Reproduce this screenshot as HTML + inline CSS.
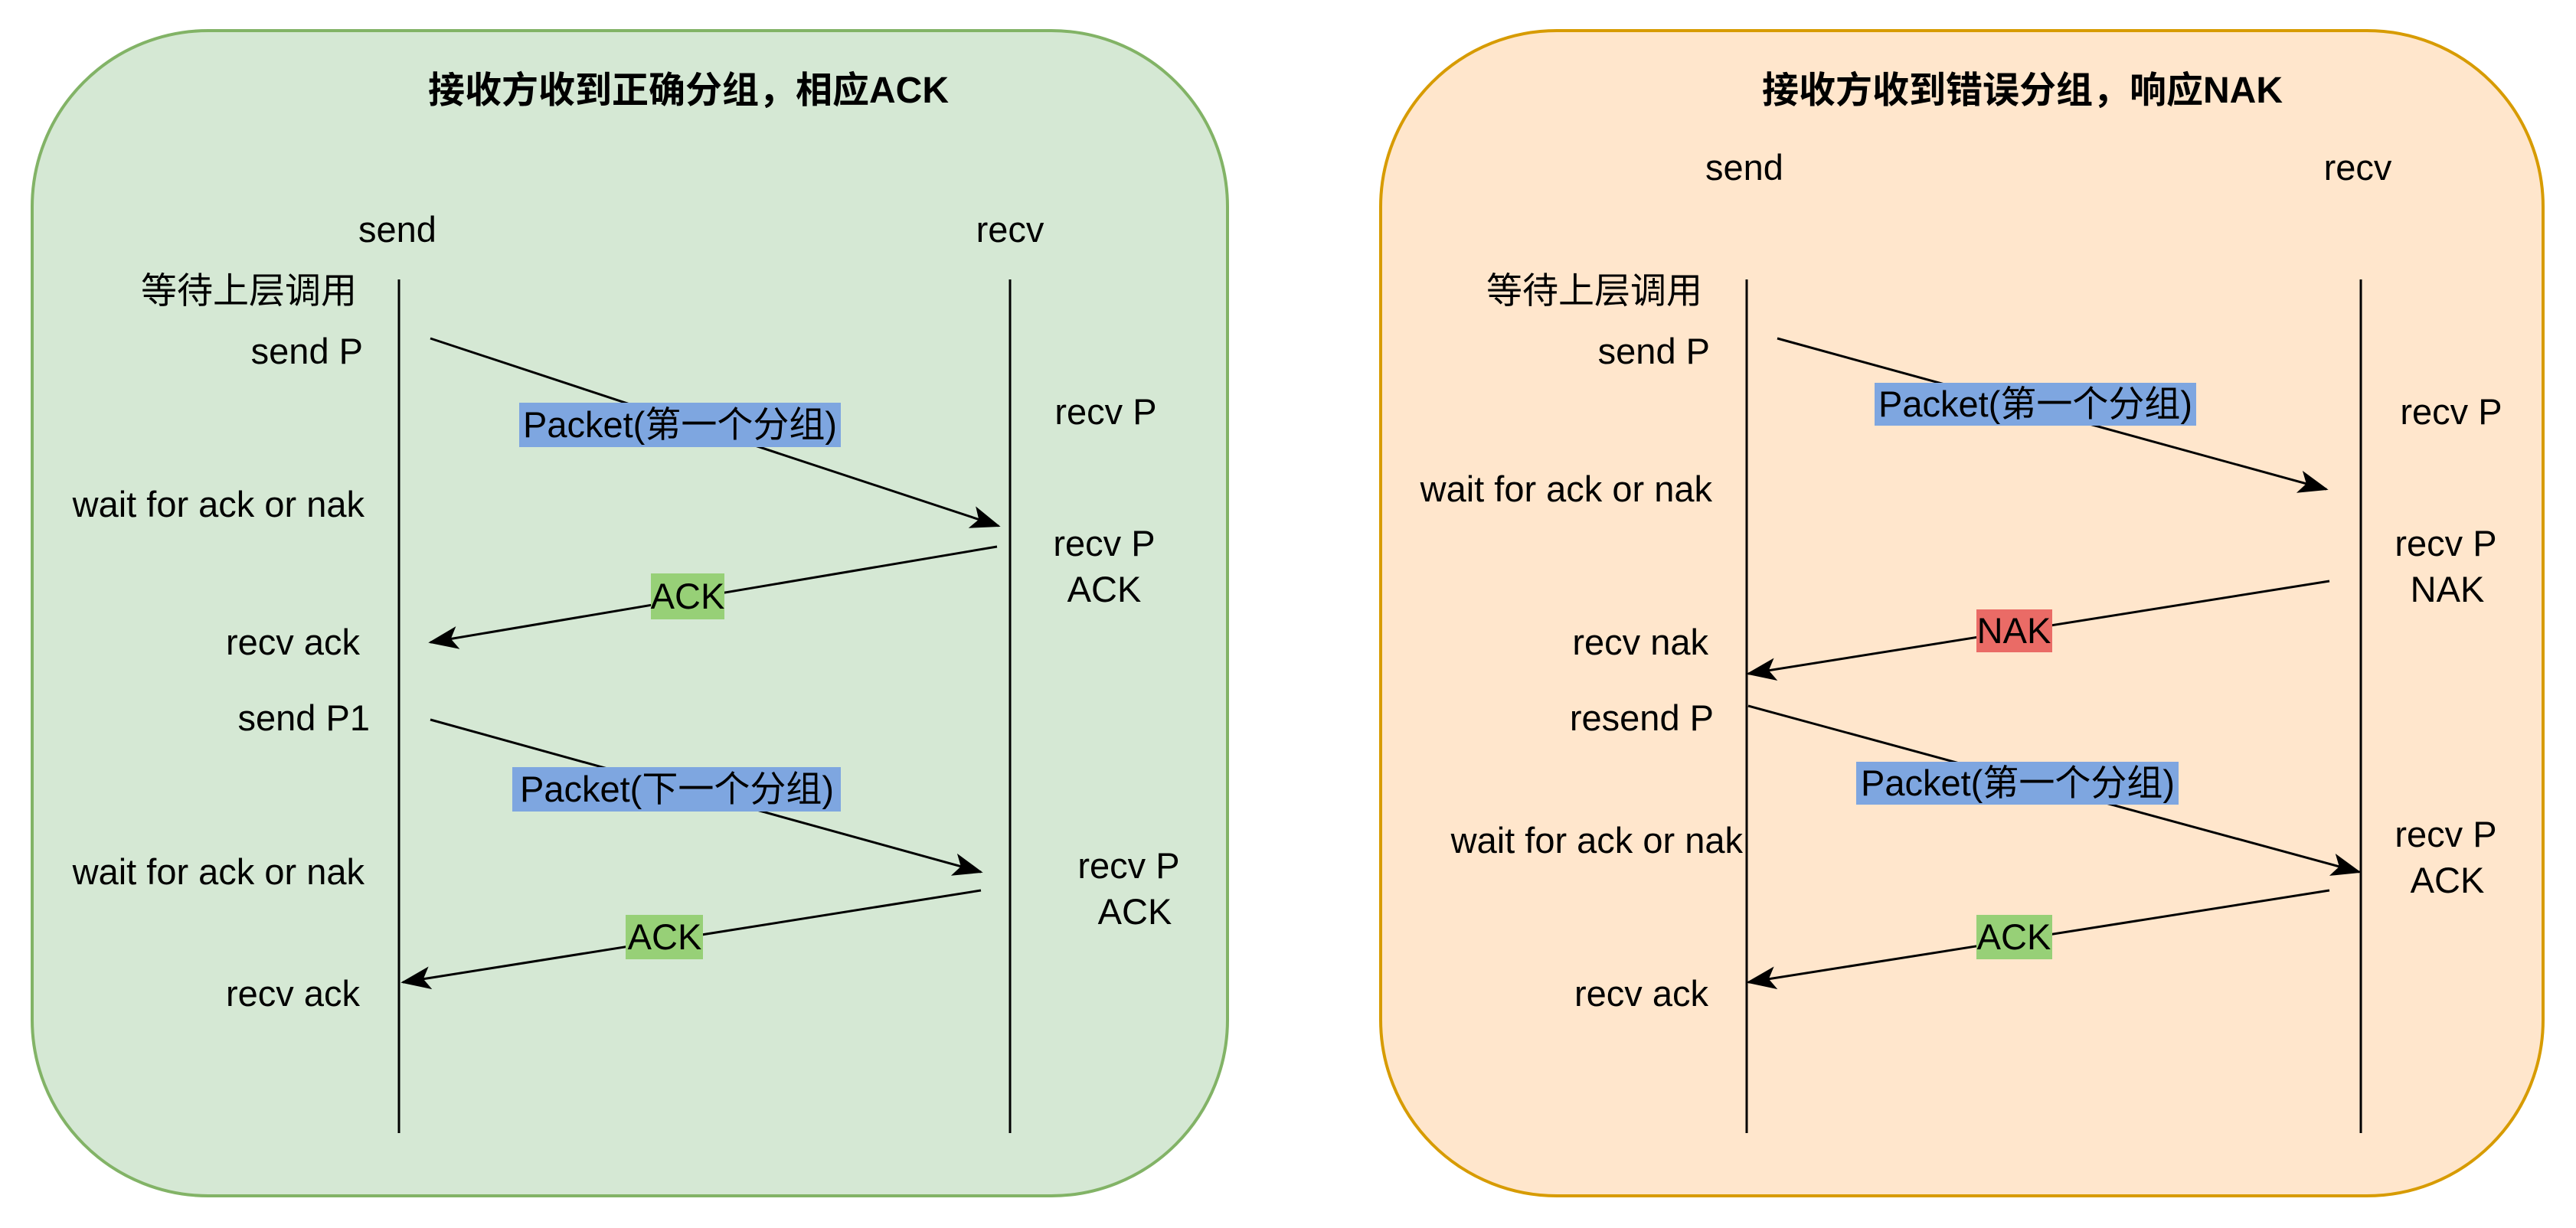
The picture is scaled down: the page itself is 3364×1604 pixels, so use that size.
<!DOCTYPE html>
<html><head><meta charset="utf-8"><style>
html,body{margin:0;padding:0;background:#fff;}
svg{display:block;}
text{font-family:"Liberation Sans","Noto Sans CJK SC",sans-serif;font-size:47px;fill:#000;}
.t{font-weight:bold;font-size:48px;}
</style></head><body>
<svg width="3364" height="1604" viewBox="0 0 3364 1604" xmlns="http://www.w3.org/2000/svg">
<rect x="42" y="40" width="1561" height="1522" rx="230" ry="230" fill="#d5e8d4" stroke="#82b366" stroke-width="4"/>
<rect x="1803" y="40" width="1518" height="1522" rx="230" ry="230" fill="#ffe6cc" stroke="#d79b00" stroke-width="4"/>

<!-- LEFT -->
<text class="t" x="899" y="134" text-anchor="middle">接收方收到正确分组，相应ACK</text>
<text x="519" y="316" text-anchor="middle">send</text>
<text x="1319" y="316" text-anchor="middle">recv</text>
<line x1="521" y1="365" x2="521" y2="1480" stroke="#000" stroke-width="3"/>
<line x1="1319" y1="365" x2="1319" y2="1480" stroke="#000" stroke-width="3"/>
<g text-anchor="end">
<text x="466" y="396">等待上层调用</text>
<text x="474" y="475">send P</text>
<text x="476" y="675">wait for ack or nak</text>
<text x="470" y="855">recv ack</text>
<text x="483" y="954">send P1</text>
<text x="476" y="1155">wait for ack or nak</text>
<text x="470" y="1314">recv ack</text>
</g>
<g text-anchor="middle">
<text x="1444" y="554">recv P</text>
<text x="1442" y="726">recv P</text>
<text x="1442" y="786">ACK</text>
<text x="1474" y="1147">recv P</text>
<text x="1482" y="1207">ACK</text>
</g>
<g stroke="#000" stroke-width="3" fill="none">
<line x1="562" y1="442" x2="1304" y2="687"/>
<line x1="1302" y1="714" x2="562" y2="839"/>
<line x1="562" y1="940" x2="1281" y2="1139"/>
<line x1="1281" y1="1163" x2="526" y2="1283"/>
</g>
<rect x="678" y="526" width="420" height="58" fill="#7ea6e0"/>
<text x="888" y="571" text-anchor="middle">Packet(第一个分组)</text>
<rect x="850" y="749" width="96" height="60" fill="#97d077"/>
<text x="898" y="795" text-anchor="middle">ACK</text>
<rect x="669" y="1002" width="429" height="58" fill="#7ea6e0"/>
<text x="884" y="1047" text-anchor="middle">Packet(下一个分组)</text>
<rect x="817" y="1195" width="101" height="58" fill="#97d077"/>
<text x="868" y="1240" text-anchor="middle">ACK</text>

<!-- RIGHT -->
<text class="t" x="2641" y="134" text-anchor="middle">接收方收到错误分组，响应NAK</text>
<text x="2278" y="235" text-anchor="middle">send</text>
<text x="3079" y="235" text-anchor="middle">recv</text>
<line x1="2281" y1="365" x2="2281" y2="1480" stroke="#000" stroke-width="3"/>
<line x1="3083" y1="365" x2="3083" y2="1480" stroke="#000" stroke-width="3"/>
<g text-anchor="end">
<text x="2223" y="396">等待上层调用</text>
<text x="2233" y="475">send P</text>
<text x="2236" y="655">wait for ack or nak</text>
<text x="2231" y="855">recv nak</text>
<text x="2238" y="954">resend P</text>
<text x="2276" y="1114">wait for ack or nak</text>
<text x="2231" y="1314">recv ack</text>
</g>
<g text-anchor="middle">
<text x="3201" y="554">recv P</text>
<text x="3194" y="726">recv P</text>
<text x="3196" y="786">NAK</text>
<text x="3194" y="1106">recv P</text>
<text x="3196" y="1166">ACK</text>
</g>
<g stroke="#000" stroke-width="3" fill="none">
<line x1="2321" y1="442" x2="3038" y2="639"/>
<line x1="3042" y1="759" x2="2283" y2="880"/>
<line x1="2283" y1="922" x2="3081" y2="1139"/>
<line x1="3042" y1="1163" x2="2283" y2="1283"/>
</g>
<rect x="2448" y="500" width="420" height="56" fill="#7ea6e0"/>
<text x="2658" y="544" text-anchor="middle">Packet(第一个分组)</text>
<rect x="2581" y="796" width="99" height="56" fill="#ea6b66"/>
<text x="2630" y="840" text-anchor="middle">NAK</text>
<rect x="2424" y="995" width="421" height="56" fill="#7ea6e0"/>
<text x="2635" y="1039" text-anchor="middle">Packet(第一个分组)</text>
<rect x="2581" y="1195" width="99" height="58" fill="#97d077"/>
<text x="2630" y="1240" text-anchor="middle">ACK</text>

<g fill="#000" stroke="#000" stroke-width="2">
<path d="M0,0 L-34,-13 L-26,0 L-34,13 Z" transform="translate(1304,687) rotate(18.3)"/>
<path d="M0,0 L-34,-13 L-26,0 L-34,13 Z" transform="translate(562,839) rotate(170.4)"/>
<path d="M0,0 L-34,-13 L-26,0 L-34,13 Z" transform="translate(1281,1139) rotate(15.5)"/>
<path d="M0,0 L-34,-13 L-26,0 L-34,13 Z" transform="translate(526,1283) rotate(171)"/>
<path d="M0,0 L-34,-13 L-26,0 L-34,13 Z" transform="translate(3038,639) rotate(15.4)"/>
<path d="M0,0 L-34,-13 L-26,0 L-34,13 Z" transform="translate(2283,880) rotate(170.9)"/>
<path d="M0,0 L-34,-13 L-26,0 L-34,13 Z" transform="translate(3081,1139) rotate(15.2)"/>
<path d="M0,0 L-34,-13 L-26,0 L-34,13 Z" transform="translate(2283,1283) rotate(171)"/>
</g>
</svg>
</body></html>
